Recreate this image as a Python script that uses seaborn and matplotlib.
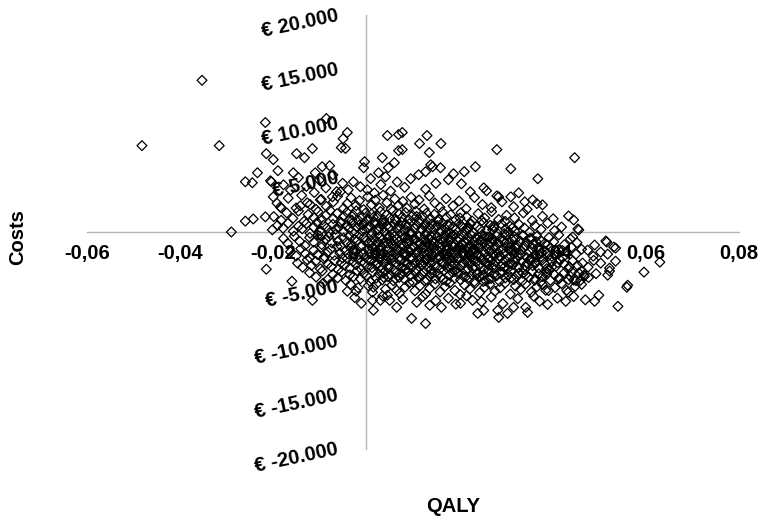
import matplotlib
matplotlib.use("Agg")
import matplotlib.pyplot as plt
import seaborn as sns
import pandas as pd

# Bootstrapped incremental QALY / cost pairs, grouped by cost level
sparse_points = [
    (-0.0482, 7960), (-0.0353, 13980), (-0.0316, 7960), (-0.0217, 10090), (-0.0086, 10460),
    (-0.0041, 9170), (-0.0054, 7780), (-0.0045, 7700), (-0.0050, 8600), (-0.0215, 7220),
    (-0.0200, 6670), (-0.0190, 5650), (-0.0157, 5460), (-0.0150, 7220), (-0.0133, 6850),
    (-0.0116, 7690), (-0.0110, 5460), (-0.0095, 6020), (-0.0079, 6110), (-0.0234, 5460),
    (-0.0260, 4630), (-0.0245, 4540), (-0.0204, 4630), (-0.0183, 2220), (-0.0290, 0),
    (-0.0260, 1000), (-0.0243, 1200), (-0.0217, 1400), (-0.0202, 200), (-0.0178, -600),
    (0.0045, 8890), (0.0069, 8980), (0.0130, 8890), (0.0114, 8150), (0.0160, 8150),
    (0.0069, 7500), (0.0135, 7320), (0.0280, 7590), (0.0447, 6850), (0.0310, 5830),
    (0.0234, 6020), (0.0210, 5560), (0.0138, 6200), (0.0060, 6390), (0.0159, 5920),
    (0.0187, 5370), (-0.0004, 6480), (-0.0006, 5920), (0.0034, 6850), (0.0047, 5920),
    (0.0026, 5460), (0.0041, 5090), (0.0077, 9170), (0.0077, 7590), (0.0142, 6020),
    (0.0127, 5560), (0.0368, 4910), (0.0176, 4820), (0.0204, 4440), (0.0112, 5280),
    (0.0095, 4910), (0.0252, 4070), (0.0258, 3800), (0.0284, 3240), (0.0310, 3240),
    (0.0327, 3610), (0.0357, 2960), (0.0378, 2500), (0.0340, 2780), (0.0280, 3330),
    (0.0434, 1480), (0.0445, 1110), (0.0454, 280), (0.0443, -460), (0.0514, -830),
    (0.0531, -1390), (0.0490, -1200), (0.0475, -1670), (0.0516, -925), (0.0535, -1480),
    (0.0518, -2040), (0.0535, -2690), (0.0503, -2870), (0.0522, -3330), (0.0518, -3980),
    (0.0596, -3700), (0.0630, -2780), (0.0559, -5090), (0.0561, -4910), (0.0540, -6850),
    (0.0499, -5830), (0.0490, -6390), (0.0428, -6390), (0.0389, -6670), (0.0456, 185),
    (-0.0215, -3430), (-0.0160, -4540), (-0.0093, -4720), (-0.0041, -5460), (-0.0022, -5460),
    (-0.0011, -6570), (0.0013, -6300), (0.0015, -7220), (-0.0116, -6300), (0.0030, -6300),
    (0.0050, -6300), (0.0065, -6940), (0.0097, -7960), (0.0127, -8430), (0.0136, -6760),
    (0.0161, -6940), (0.0202, -6570), (0.0228, -6300), (0.0252, -7220), (0.0282, -7220),
    (0.0284, -7870), (0.0239, -7500), (0.0303, -7500), (0.0316, -6940), (0.0342, -6940),
    (0.0346, -7410), (0.0015, -5090), (0.0065, -5370), (0.0045, -5830), (0.0037, -4170),
    (0.0385, -5370), (0.0430, -5370), (0.0460, -4440), (0.0467, -3980), (0.0445, -4440),
]

band_upper = [
    (-0.0206, 4720), (-0.0200, 3240), (-0.0185, 2310), (-0.0142, 2410), (-0.0127, 2690),
    (-0.0099, 2960), (-0.0073, 3240), (-0.0056, 3700), (-0.0039, 3890), (-0.0028, 4630),
    (-0.0013, 4170), (0.0002, 3890), (-0.0178, 4350), (-0.0163, 3870), (-0.0146, 5020),
    (-0.0129, 4210), (-0.0112, 3640), (-0.0101, 4780), (-0.0087, 4060), (-0.0072, 5270),
    (-0.0064, 3720), (-0.0051, 4490), (0.0009, 4920), (0.0017, 3600), (0.0031, 4370),
    (0.0052, 3770), (0.0066, 4610), (0.0082, 4120), (0.0127, 3950), (0.0149, 4480),
    (0.0223, 3710),
]

band_a = [
    (-0.0192, 2650), (-0.0168, 3120), (-0.0151, 2210), (-0.0139, 3380), (-0.0121, 2540),
    (-0.0108, 2080), (-0.0097, 3010), (-0.0086, 2360), (-0.0071, 2780), (-0.0062, 3300),
    (-0.0049, 2170), (-0.0041, 2620), (-0.0033, 3150), (-0.0022, 2440), (-0.0015, 2890),
    (-0.0006, 2060), (0.0003, 3260), (0.0011, 2510), (0.0019, 2930), (0.0028, 2230),
    (0.0036, 3390), (0.0044, 2700), (0.0053, 2100), (0.0061, 3050), (0.0069, 2460),
    (0.0078, 2820), (0.0087, 2190), (0.0096, 3210), (0.0104, 2580), (0.0113, 2950),
    (0.0124, 2120), (0.0135, 3330), (0.0147, 2670), (0.0158, 2280), (0.0171, 3070),
    (0.0186, 2400), (0.0199, 2860), (0.0214, 2140), (0.0232, 3180), (0.0249, 2530),
    (0.0268, 2240), (0.0291, 2780), (0.0316, 2330), (0.0345, 2090), (0.0366, 2620),
]

band_b = [
    (-0.0199, 1420), (-0.0183, 1080), (-0.0171, 1760), (-0.0158, 1250), (-0.0146, 1930),
    (-0.0134, 980), (-0.0125, 1610), (-0.0113, 1340), (-0.0104, 1870), (-0.0095, 1120),
    (-0.0087, 1530), (-0.0078, 1990), (-0.0071, 1240), (-0.0063, 1700), (-0.0056, 940),
    (-0.0049, 1450), (-0.0042, 1820), (-0.0036, 1180), (-0.0029, 1580), (-0.0022, 1950),
    (-0.0016, 1030), (-0.0009, 1390), (-0.0002, 1740), (0.0004, 1210), (0.0011, 1650),
    (0.0017, 920), (0.0024, 1480), (0.0030, 1890), (0.0037, 1120), (0.0043, 1560),
    (0.0050, 1300), (0.0057, 1960), (0.0063, 1010), (0.0070, 1670), (0.0077, 1380),
    (0.0084, 1800), (0.0091, 1160), (0.0099, 1520), (0.0106, 1910), (0.0114, 1070),
    (0.0121, 1440), (0.0129, 1730), (0.0137, 1260), (0.0146, 1620), (0.0154, 990),
    (0.0163, 1850), (0.0172, 1350), (0.0181, 1590), (0.0192, 1130), (0.0203, 1780),
    (0.0215, 1410), (0.0227, 1020), (0.0240, 1690), (0.0254, 1280), (0.0269, 1880),
    (0.0284, 1150), (0.0301, 1540), (0.0318, 1300), (0.0337, 1760), (0.0356, 1060),
    (0.0378, 1450), (0.0401, 1220),
]

band_c = [
    (-0.0191, 610), (-0.0179, 350), (-0.0168, 820), (-0.0157, 70), (-0.0146, 530),
    (-0.0138, 290), (-0.0129, 760), (-0.0121, -120), (-0.0113, 440), (-0.0106, 880),
    (-0.0099, 150), (-0.0092, 620), (-0.0085, 360), (-0.0079, -60), (-0.0072, 710),
    (-0.0066, 250), (-0.0060, 480), (-0.0054, 850), (-0.0048, 20), (-0.0042, 570),
    (-0.0037, 310), (-0.0031, 780), (-0.0026, -150), (-0.0020, 420), (-0.0015, 660),
    (-0.0009, 110), (-0.0004, 890), (0.0002, 340), (0.0007, 580), (0.0012, -40),
    (0.0018, 730), (0.0023, 230), (0.0028, 490), (0.0034, 840), (0.0039, 60),
    (0.0044, 610), (0.0049, 380), (0.0055, -170), (0.0060, 700), (0.0065, 270),
    (0.0071, 530), (0.0076, 900), (0.0081, 130), (0.0087, 450), (0.0092, 770),
    (0.0097, -90), (0.0103, 320), (0.0108, 640), (0.0113, 870), (0.0119, 190),
    (0.0124, 560), (0.0130, -10), (0.0135, 410), (0.0141, 750), (0.0146, 260),
    (0.0152, 600), (0.0157, 40), (0.0163, 830), (0.0168, 370), (0.0174, 670),
    (0.0180, -130), (0.0186, 470), (0.0192, 220), (0.0198, 790), (0.0204, 540),
    (0.0210, 90), (0.0217, 350), (0.0223, 720), (0.0230, -70), (0.0237, 500),
    (0.0244, 280), (0.0251, 860), (0.0258, 150), (0.0266, 620), (0.0274, 410),
    (0.0282, -160), (0.0290, 740), (0.0299, 300), (0.0308, 560), (0.0318, 80),
    (0.0328, 690), (0.0339, 380), (0.0350, -30), (0.0362, 590), (0.0375, 240),
    (0.0389, 810), (0.0404, 120), (0.0419, 460),
]

band_d = [
    (-0.0169, -1050), (-0.0155, -380), (-0.0143, -870), (-0.0132, -1240), (-0.0122, -510),
    (-0.0113, -940), (-0.0104, -290), (-0.0096, -1160), (-0.0088, -700), (-0.0081, -430),
    (-0.0074, -1010), (-0.0067, -230), (-0.0061, -820), (-0.0055, -1280), (-0.0049, -560),
    (-0.0043, -960), (-0.0037, -340), (-0.0032, -1120), (-0.0026, -650), (-0.0021, -880),
    (-0.0015, -270), (-0.0010, -1210), (-0.0005, -470), (0.0000, -790), (0.0005, -1050),
    (0.0010, -320), (0.0015, -600), (0.0020, -1260), (0.0024, -910), (0.0029, -420),
    (0.0034, -730), (0.0038, -1090), (0.0043, -250), (0.0047, -560), (0.0052, -980),
    (0.0056, -1220), (0.0061, -370), (0.0065, -680), (0.0070, -840), (0.0074, -1150),
    (0.0078, -290), (0.0083, -520), (0.0087, -1020), (0.0091, -760), (0.0096, -210),
    (0.0100, -1270), (0.0104, -610), (0.0109, -900), (0.0113, -400), (0.0117, -1080),
    (0.0121, -700), (0.0126, -300), (0.0130, -960), (0.0134, -550), (0.0139, -1190),
    (0.0143, -820), (0.0147, -230), (0.0152, -470), (0.0156, -1040), (0.0160, -640),
    (0.0165, -880), (0.0169, -350), (0.0173, -1250), (0.0178, -720), (0.0182, -500),
    (0.0186, -1000), (0.0191, -260), (0.0195, -800), (0.0199, -590), (0.0204, -1130),
    (0.0208, -410), (0.0213, -920), (0.0217, -670), (0.0222, -1220), (0.0226, -310),
    (0.0231, -860), (0.0235, -530), (0.0240, -1060), (0.0245, -750), (0.0249, -240),
    (0.0254, -980), (0.0259, -460), (0.0264, -1180), (0.0269, -630), (0.0274, -850),
    (0.0279, -360), (0.0284, -1090), (0.0289, -560), (0.0295, -770), (0.0300, -280),
    (0.0306, -1010), (0.0312, -690), (0.0318, -450), (0.0324, -1230), (0.0330, -830),
    (0.0337, -330), (0.0344, -960), (0.0351, -590), (0.0358, -1140), (0.0366, -400),
    (0.0374, -780), (0.0383, -1050), (0.0392, -510), (0.0402, -900), (0.0413, -270),
    (0.0425, -1170), (0.0438, -650), (0.0452, -990),
]

band_e = [
    (-0.0163, -1820), (-0.0151, -2210), (-0.0141, -1540), (-0.0131, -1990), (-0.0122, -2360),
    (-0.0113, -1680), (-0.0105, -2080), (-0.0097, -1410), (-0.0090, -2290), (-0.0083, -1850),
    (-0.0076, -1560), (-0.0069, -2150), (-0.0063, -1330), (-0.0057, -1940), (-0.0051, -2390),
    (-0.0045, -1700), (-0.0039, -2030), (-0.0034, -1450), (-0.0028, -2260), (-0.0023, -1780),
    (-0.0017, -2100), (-0.0012, -1360), (-0.0007, -1900), (-0.0002, -2320), (0.0003, -1620),
    (0.0008, -2000), (0.0013, -1470), (0.0018, -2200), (0.0022, -1750), (0.0027, -2380),
    (0.0032, -1390), (0.0036, -1880), (0.0041, -2120), (0.0045, -1580), (0.0050, -2270),
    (0.0054, -1820), (0.0059, -1340), (0.0063, -2050), (0.0067, -1670), (0.0072, -2340),
    (0.0076, -1480), (0.0080, -1960), (0.0085, -2180), (0.0089, -1610), (0.0093, -1850),
    (0.0098, -2390), (0.0102, -1420), (0.0106, -2070), (0.0110, -1730), (0.0114, -2240),
    (0.0119, -1540), (0.0123, -1920), (0.0127, -1330), (0.0131, -2130), (0.0135, -1800),
    (0.0140, -2310), (0.0144, -1500), (0.0148, -1990), (0.0152, -1650), (0.0156, -2220),
    (0.0160, -1400), (0.0165, -1870), (0.0169, -2090), (0.0173, -1570), (0.0177, -2360),
    (0.0181, -1740), (0.0186, -1350), (0.0190, -2010), (0.0194, -1630), (0.0198, -2280),
    (0.0202, -1460), (0.0207, -1900), (0.0211, -2150), (0.0215, -1700), (0.0219, -1380),
    (0.0224, -2330), (0.0228, -1830), (0.0232, -1560), (0.0237, -2060), (0.0241, -1440),
    (0.0245, -2250), (0.0250, -1760), (0.0254, -1950), (0.0259, -1520), (0.0263, -2380),
    (0.0268, -1680), (0.0272, -2110), (0.0277, -1350), (0.0282, -1880), (0.0286, -2200),
    (0.0291, -1600), (0.0296, -1990), (0.0301, -1430), (0.0306, -2300), (0.0311, -1790),
    (0.0316, -2040), (0.0321, -1510), (0.0327, -2180), (0.0332, -1700), (0.0338, -1380),
    (0.0344, -2350), (0.0350, -1860), (0.0356, -1560), (0.0362, -2080), (0.0368, -1420),
    (0.0375, -2260), (0.0382, -1730), (0.0389, -1960), (0.0396, -1490), (0.0404, -2150),
    (0.0412, -1650), (0.0421, -2370), (0.0430, -1820), (0.0440, -1400), (0.0450, -2040),
    (0.0462, -1590), (0.0487, -2230), (0.0503, -1850),
]

band_f = [
    (-0.0148, -2870), (-0.0137, -3250), (-0.0127, -2560), (-0.0118, -3080), (-0.0109, -2700),
    (-0.0099, -3390), (-0.0091, -2490), (-0.0083, -2950), (-0.0075, -3200), (-0.0068, -2640),
    (-0.0061, -3470), (-0.0054, -2810), (-0.0047, -3040), (-0.0041, -2450), (-0.0035, -3310),
    (-0.0029, -2720), (-0.0023, -2990), (-0.0017, -2540), (-0.0011, -3420), (-0.0005, -2850),
    (0.0001, -3130), (0.0006, -2600), (0.0012, -3280), (0.0017, -2760), (0.0023, -3010),
    (0.0028, -2470), (0.0033, -3370), (0.0038, -2900), (0.0043, -2660), (0.0048, -3180),
    (0.0053, -2520), (0.0058, -3460), (0.0063, -2830), (0.0068, -3060), (0.0073, -2590),
    (0.0078, -3300), (0.0083, -2740), (0.0088, -2980), (0.0093, -2430), (0.0098, -3210),
    (0.0103, -2880), (0.0108, -3440), (0.0113, -2620), (0.0118, -3100), (0.0123, -2790),
    (0.0128, -2500), (0.0133, -3340), (0.0138, -2940), (0.0143, -2680), (0.0148, -3150),
    (0.0153, -2460), (0.0158, -3400), (0.0163, -2860), (0.0168, -3020), (0.0173, -2570),
    (0.0178, -3260), (0.0183, -2730), (0.0188, -2990), (0.0193, -3480), (0.0198, -2510),
    (0.0203, -3120), (0.0208, -2800), (0.0213, -2640), (0.0218, -3360), (0.0223, -2920),
    (0.0228, -2480), (0.0233, -3190), (0.0238, -2710), (0.0243, -3040), (0.0248, -2560),
    (0.0253, -3430), (0.0258, -2840), (0.0263, -3080), (0.0268, -2620), (0.0273, -3290),
    (0.0278, -2770), (0.0283, -2450), (0.0288, -3150), (0.0293, -2960), (0.0298, -2590),
    (0.0303, -3380), (0.0309, -2820), (0.0315, -3010), (0.0321, -2490), (0.0327, -3240),
    (0.0333, -2700), (0.0339, -3460), (0.0345, -2900), (0.0351, -2550), (0.0357, -3110),
    (0.0363, -2780), (0.0370, -3320), (0.0377, -2610), (0.0384, -2990), (0.0391, -3450),
    (0.0399, -2740), (0.0407, -3160), (0.0415, -2520), (0.0424, -2930), (0.0433, -3380),
    (0.0443, -2680), (0.0453, -3070), (0.0464, -2860), (0.0476, -3240), (0.0488, -2610),
]

band_g = [
    (-0.0122, -3760), (-0.0108, -4150), (-0.0095, -3600), (-0.0083, -4380), (-0.0072, -3900),
    (-0.0062, -4230), (-0.0053, -3660), (-0.0044, -4470), (-0.0036, -3950), (-0.0028, -4120),
    (-0.0020, -3580), (-0.0013, -4310), (-0.0006, -3820), (0.0001, -4050), (0.0008, -4560),
    (0.0014, -3700), (0.0021, -4250), (0.0027, -3880), (0.0034, -4420), (0.0040, -3610),
    (0.0046, -4110), (0.0052, -3960), (0.0058, -4500), (0.0064, -3740), (0.0070, -4190),
    (0.0076, -3850), (0.0082, -4360), (0.0088, -3580), (0.0094, -4020), (0.0100, -4590),
    (0.0106, -3790), (0.0112, -4270), (0.0118, -3930), (0.0124, -3640), (0.0130, -4440),
    (0.0136, -4080), (0.0142, -3720), (0.0148, -4330), (0.0154, -3870), (0.0160, -4150),
    (0.0166, -3560), (0.0172, -4520), (0.0178, -3990), (0.0184, -3690), (0.0190, -4260),
    (0.0196, -3820), (0.0202, -4410), (0.0208, -4060), (0.0214, -3600), (0.0220, -4200),
    (0.0226, -3900), (0.0232, -4570), (0.0238, -3760), (0.0244, -4120), (0.0250, -3980),
    (0.0256, -4480), (0.0262, -3650), (0.0268, -4290), (0.0274, -3870), (0.0280, -4020),
    (0.0286, -4550), (0.0292, -3710), (0.0298, -4240), (0.0304, -3940), (0.0310, -3580),
    (0.0316, -4390), (0.0322, -4080), (0.0328, -3780), (0.0335, -4500), (0.0342, -3920),
    (0.0349, -4170), (0.0356, -3640), (0.0363, -4350), (0.0370, -3850), (0.0378, -4100),
    (0.0386, -3690), (0.0395, -4460), (0.0404, -3960), (0.0414, -4230), (0.0425, -3760),
    (0.0437, -4050), (0.0450, -4480), (0.0463, -3620), (0.0477, -4200), (0.0493, -3840),
    (0.0522, -3600), (0.0434, -4400), (0.0456, -3780),
]

band_h = [
    (-0.0034, -4830), (-0.0018, -5140), (0.0004, -4950), (0.0013, -5550), (0.0022, -4780),
    (0.0041, -5270), (0.0055, -4890), (0.0071, -5650), (0.0083, -5080), (0.0092, -4700),
    (0.0104, -5420), (0.0115, -4960), (0.0127, -5710), (0.0136, -5200), (0.0147, -4810),
    (0.0158, -5530), (0.0169, -5010), (0.0179, -4690), (0.0190, -5380), (0.0201, -5760),
    (0.0211, -4900), (0.0222, -5240), (0.0233, -4750), (0.0243, -5600), (0.0254, -5090),
    (0.0265, -4820), (0.0276, -5450), (0.0287, -5160), (0.0298, -4700), (0.0309, -5720),
    (0.0320, -4980), (0.0331, -5300), (0.0342, -4790), (0.0354, -5540), (0.0366, -5050),
    (0.0378, -4860), (0.0391, -5400), (0.0405, -5130), (0.0419, -4750), (0.0433, -5560),
    (0.0448, -5020), (0.0462, -4830),
]

band_low = [
    (-0.0025, -6050), (0.0035, -5900), (0.0078, -6200), (0.0108, -6480), (0.0121, -5950),
    (0.0149, -6330), (0.0176, -6100), (0.0192, -6650), (0.0215, -5880), (0.0247, -6420),
    (0.0268, -6000), (0.0293, -6600), (0.0325, -6150), (0.0359, -5920), (0.0372, -6380),
    (0.0410, -6100), (0.0445, -5950), (0.0470, -6250),
]

# Extra replicates packed into the dense centre of the cloud
band_core = [
    (0.0026, 150), (0.0049, -330), (0.0068, 420), (0.0093, -120), (0.0118, 280),
    (0.0139, -410), (0.0161, 90), (0.0185, -250), (0.0206, 470), (0.0229, -20),
    (0.0253, -380), (0.0271, 210), (0.0296, -150), (0.0314, 390), (0.0335, -290),
    (0.0033, 620), (0.0081, -470), (0.0126, 650), (0.0172, -60), (0.0219, 330),
    (0.0264, -480), (0.0305, 30),
    (0.0012, -930), (0.0031, -1370), (0.0058, -780), (0.0079, -1180), (0.0101, -640),
    (0.0123, -1420), (0.0144, -990), (0.0167, -560), (0.0188, -1330), (0.0209, -870),
    (0.0231, -1210), (0.0252, -620), (0.0275, -1440), (0.0297, -1020), (0.0319, -700),
    (0.0342, -1290), (0.0364, -880), (0.0389, -1200), (0.0045, -1030), (0.0089, -560),
    (0.0134, -1260), (0.0178, -830), (0.0222, -1470), (0.0266, -930), (0.0309, -1350),
    (0.0354, -610),
    (0.0019, -1960), (0.0042, -2410), (0.0064, -1610), (0.0087, -2100), (0.0108, -1830),
    (0.0131, -2460), (0.0154, -1720), (0.0176, -2180), (0.0198, -1580), (0.0221, -2030),
    (0.0243, -2370), (0.0265, -1790), (0.0287, -2290), (0.0309, -1650), (0.0331, -2090),
    (0.0353, -2440), (0.0376, -1870), (0.0398, -2250), (0.0421, -1700), (0.0052, -2170),
    (0.0097, -1570), (0.0141, -2060), (0.0187, -2410), (0.0232, -1690), (0.0276, -2150),
    (0.0321, -1880), (0.0365, -2330), (0.0412, -2010),
    (0.0024, -2880), (0.0047, -3320), (0.0071, -2640), (0.0094, -3090), (0.0116, -2810),
    (0.0139, -3450), (0.0162, -2700), (0.0184, -3170), (0.0207, -2950), (0.0229, -3380),
    (0.0251, -2620), (0.0274, -3040), (0.0296, -3260), (0.0318, -2760), (0.0341, -3120),
    (0.0363, -2900), (0.0387, -3380), (0.0411, -2830), (0.0436, -3200), (0.0083, -3480),
    (0.0128, -2560), (0.0173, -3300), (0.0218, -2690), (0.0262, -3410), (0.0307, -2980),
    (0.0352, -2680), (0.0398, -3230),
    (0.0036, -3790), (0.0062, -4280), (0.0087, -3680), (0.0113, -4090), (0.0139, -3840),
    (0.0164, -4400), (0.0189, -3620), (0.0213, -4130), (0.0238, -3900), (0.0262, -4350),
    (0.0287, -3730), (0.0311, -4200), (0.0336, -3800), (0.0361, -4460), (0.0387, -3910),
    (0.0413, -4330), (0.0441, -3680), (0.0468, -4080), (0.0125, -4520), (0.0251, -4560),
    (0.0375, -4580),
    (-0.0031, 1090), (-0.0008, 620), (0.0015, 1350), (0.0038, 820), (0.0062, 1210),
    (0.0085, 690), (0.0108, 1430), (0.0131, 910), (0.0155, 1180), (0.0178, 570),
    (0.0201, 1290), (0.0224, 780), (0.0248, 1050), (0.0273, 560), (0.0298, 980),
]

x_ticks = [-0.06, -0.04, -0.02, 0.0, 0.02, 0.04, 0.06, 0.08]
x_tick_labels = ["-0,06", "-0,04", "-0,02", "0,00", "0,02", "0,04", "0,06", "0,08"]
y_ticks = [20000, 15000, 10000, 5000, 0, -5000, -10000, -15000, -20000]
y_tick_labels = ["€ 20.000", "€ 15.000", "€ 10.000", "€ 5.000", "€ -",
                 "€ -5.000", "€ -10.000", "€ -15.000", "€ -20.000"]

all_points = (sparse_points + band_upper + band_a + band_b + band_c + band_d
              + band_e + band_f + band_g + band_h + band_low + band_core)
df = pd.DataFrame(all_points, columns=["QALY", "Costs"])

sns.set_style("white")
plt.rcParams["font.family"] = ["Liberation Sans", "DejaVu Sans"]
plt.rcParams["axes.axisbelow"] = True
plt.rcParams["text.color"] = "black"
plt.rcParams["axes.labelcolor"] = "black"

fig = plt.figure(figsize=(7.61, 5.17), dpi=100)
ax = fig.add_axes([0.1143, 0.1315, 0.8568, 0.8395])

sns.scatterplot(data=df, x="QALY", y="Costs", ax=ax, marker="D", s=25,
                facecolor="none", edgecolor="black", linewidth=0.9, zorder=3)

ax.set_xlim(-0.06, 0.08)
ax.set_ylim(-20000, 20000)

axis_grey = "#b4b4b4"
for side in ("top", "right"):
    ax.spines[side].set_visible(False)
for side in ("left", "bottom"):
    ax.spines[side].set_position(("data", 0))
    ax.spines[side].set_color(axis_grey)
    ax.spines[side].set_linewidth(1.0)
    ax.spines[side].set_zorder(1)

ax.set_xticks(x_ticks)
ax.set_xticklabels(x_tick_labels)
ax.set_yticks(y_ticks)
ax.set_yticklabels(y_tick_labels)

label_size = 14.5
ax.tick_params(axis="x", direction="out", length=4.3, width=1, color=axis_grey,
               pad=4.5, labelsize=label_size, labelcolor="black")
ax.tick_params(axis="y", direction="out", length=4.3, width=1, color=axis_grey,
               pad=16, labelsize=label_size, labelcolor="black")
for lbl in ax.get_xticklabels():
    lbl.set_fontweight("bold")
for lbl in ax.get_yticklabels():
    lbl.set_fontweight("bold")
    lbl.set_rotation(12)
    lbl.set_rotation_mode("anchor")
    lbl.set_ha("right")
    lbl.set_va("center")

ax.set_xlabel("QALY", fontsize=label_size, fontweight="bold", color="black")
ax.set_ylabel("Costs", fontsize=label_size, fontweight="bold", color="black")
ax.xaxis.set_label_coords(0.5613, -0.1336)
ax.xaxis.label.set_va("center")
ax.yaxis.set_label_coords(-0.1058, 0.4885)
ax.yaxis.label.set_va("center")

fig.savefig("out.png", dpi=100, facecolor="white")
